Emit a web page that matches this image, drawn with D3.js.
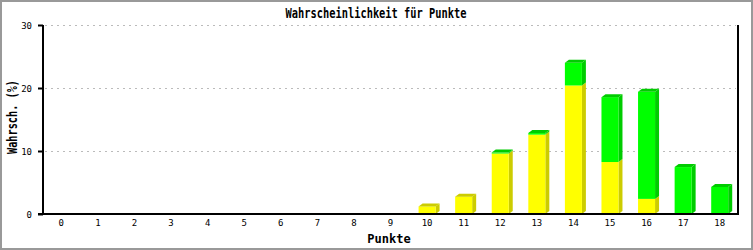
<!DOCTYPE html>
<html>
<head>
<meta charset="utf-8">
<script src="https://cdn.jsdelivr.net/npm/d3@7"></script>
<style>
  body { margin: 0; background: #fff; }
  text { font-family: "DejaVu Sans Mono", monospace; fill: #000; }
  .grid line { stroke: #bbb; stroke-dasharray: 2,4; }
</style>
</head>
<body>
<script>
// data
const points = d3.range(0, 19).map(String)
const yellowVals = [0, 0, 0, 0, 0, 0, 0, 0, 0, 0, 1.2, 2.75, 9.6, 12.6, 20.4, 8.25, 2.4, 0, 0]
const greenVals = [0, 0, 0, 0, 0, 0, 0, 0, 0, 0, 0, 0, 0.15, 0.25, 3.6, 10.3, 17.0, 7.45, 4.3]
const yTicks = [0, 10, 20, 30]

const width = 753
const height = 250
const plotLeft = 43, plotRight = 738, plotTop = 25, plotBottom = 214
const depthX = 4, depthY = 3

const svg = d3.select("body").append("svg")
  .attr("width", width)
  .attr("height", height)

// frame
svg.append("rect")
  .attr("x", 1).attr("y", 1)
  .attr("width", width - 2).attr("height", height - 2)
  .attr("fill", "#fff")
  .attr("stroke", "#999")
  .attr("stroke-width", 2)

const x = d3.scaleBand()
  .domain(points)
  .range([plotLeft, plotRight])
  .paddingInner(0.535)
  .paddingOuter(0.2675)

const y = d3.scaleLinear()
  .domain([0, 30])
  .range([plotBottom, plotTop])

// grid
svg.append("g")
  .attr("class", "grid")
  .selectAll("line")
  .data(yTicks.filter(d => d > 0))
  .enter().append("line")
    .attr("x1", plotLeft + 2)
    .attr("x2", plotRight - 2)
    .attr("y1", d => y(d) + 0.5)
    .attr("y2", d => y(d) + 0.5)

// stacked 3d bars
const series = [
  { vals: yellowVals, front: "#ffff00", dark: "#cccc00" },
  { vals: greenVals, front: "#00ff00", dark: "#00cc00" },
]

const bars = svg.append("g").attr("class", "bars")
points.forEach((p, i) => {
  let base = 0
  const total = yellowVals[i] + greenVals[i]
  series.forEach(s => {
    const v = s.vals[i]
    if (v <= 0) return
    const x0 = x(p)
    const x1 = x0 + x.bandwidth()
    const yb = y(base)
    const yt = y(base + v)
    // side face
    bars.append("polygon")
      .attr("points", [[x1, yb], [x1 + depthX, yb - depthY], [x1 + depthX, yt - depthY], [x1, yt]].join(" "))
      .attr("fill", s.dark)
    // front face
    bars.append("rect")
      .attr("x", x0).attr("y", yt)
      .attr("width", x.bandwidth())
      .attr("height", yb - yt)
      .attr("fill", s.front)
    base += v
    // top face only on the top segment
    if (Math.abs(base - total) < 1e-9) {
      bars.append("polygon")
        .attr("points", [[x0, yt], [x0 + depthX, yt - depthY], [x1 + depthX, yt - depthY], [x1, yt]].join(" "))
        .attr("fill", s.dark)
    }
  })
})

// axes
const yAxis = svg.append("g")
  .attr("transform", "translate(" + plotLeft + ",0)")
  .call(d3.axisLeft(y).tickValues(yTicks).tickSize(5).tickPadding(6))
yAxis.select(".domain").attr("stroke", "#000").attr("stroke-width", 2)
  .attr("d", "M0," + plotTop + "V" + plotBottom)
yAxis.selectAll(".tick line").attr("stroke", "#000").attr("stroke-width", 2)
yAxis.selectAll(".tick text").style("font-size", "9px").attr("dy", "0.35em")

const xAxis = svg.append("g")
  .attr("transform", "translate(0," + plotBottom + ")")
  .call(d3.axisBottom(x).tickSize(0).tickPadding(6))
xAxis.select(".domain").attr("stroke", "#000").attr("stroke-width", 2)
  .attr("d", "M" + (plotLeft - 5) + ",0H" + plotRight)
xAxis.selectAll(".tick text").style("font-size", "9px")

// right border line
svg.append("line")
  .attr("x1", plotRight).attr("x2", plotRight)
  .attr("y1", plotTop).attr("y2", plotBottom + 1)
  .attr("stroke", "#000")
  .attr("stroke-width", 2)

// title
svg.append("text")
  .attr("x", 376).attr("y", 18)
  .attr("text-anchor", "middle")
  .attr("textLength", 181)
  .attr("lengthAdjust", "spacingAndGlyphs")
  .style("font-size", "14px")
  .style("font-weight", "bold")
  .text("Wahrscheinlichkeit für Punkte")

// axis labels
svg.append("text")
  .attr("x", 389).attr("y", 243)
  .attr("text-anchor", "middle")
  .style("font-size", "12px")
  .style("font-weight", "bold")
  .text("Punkte")

svg.append("text")
  .attr("transform", "translate(17,117) rotate(-90)")
  .attr("text-anchor", "middle")
  .attr("textLength", 74)
  .attr("lengthAdjust", "spacingAndGlyphs")
  .style("font-size", "14px")
  .style("font-weight", "bold")
  .text("Wahrsch. (%)")
</script>
</body>
</html>
